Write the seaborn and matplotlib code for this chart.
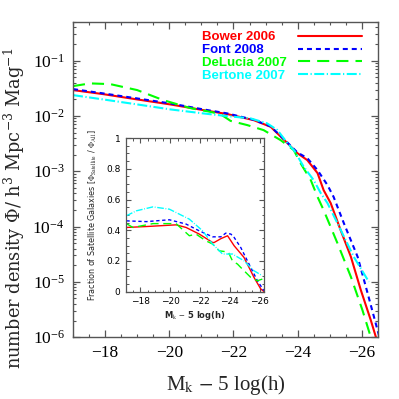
import numpy as np
import pandas as pd
import seaborn as sns
import matplotlib.pyplot as plt
from matplotlib.ticker import MultipleLocator, LogLocator, NullFormatter

# main panel: luminosity function (log10 of phi) vs magnitude
mag_bower = [-17.0, -17.94, -19.0, -20.03, -21.06, -21.81, -22.63, -23.16, -23.68, -23.99,
             -24.30, -24.62, -24.81, -25.03, -25.34, -25.66, -25.97, -26.28, -26.44, -26.5]
logphi_bower = [-1.533, -1.606, -1.702, -1.792, -1.895, -1.967, -2.076, -2.197, -2.492, -2.673,
                -2.799, -3.034, -3.342, -3.577, -4.065, -4.548, -5.150, -5.693, -6.0, -6.1]

mag_font = [-17.0, -17.94, -19.0, -20.03, -21.06, -21.81, -22.63, -23.16, -23.68, -23.99,
            -24.30, -24.62, -24.93, -25.12, -25.44, -25.87, -26.18, -26.49, -26.6]
logphi_font = [-1.515, -1.593, -1.684, -1.774, -1.882, -1.955, -2.07, -2.19, -2.48, -2.66,
               -2.763, -2.98, -3.251, -3.463, -3.939, -4.548, -5.204, -5.873, -6.1]

mag_delucia = [-17.0, -17.53, -18.16, -19.0, -19.81, -20.66, -21.28, -21.6, -21.91, -22.43,
               -22.94, -23.47, -23.88, -24.09, -24.41, -24.62, -24.81, -25.24, -25.66, -26.02,
               -26.28, -26.35]
logphi_delucia = [-1.461, -1.412, -1.425, -1.533, -1.714, -1.859, -1.926, -1.97, -2.09, -2.166,
                  -2.257, -2.438, -2.618, -2.854, -3.161, -3.463, -3.703, -4.300, -4.910, -5.512,
                  -6.0, -6.1]

mag_bertone = [-17.0, -17.94, -19.0, -20.03, -21.06, -21.81, -22.53, -23.05, -23.37, -23.68,
               -23.9, -24.19, -24.5, -24.72, -24.93, -25.24, -25.75, -26.22]
logphi_bertone = [-1.624, -1.702, -1.792, -1.882, -1.955, -2.004, -2.044, -2.135, -2.256, -2.49,
                  -2.63, -2.920, -3.161, -3.396, -3.577, -3.939, -4.548, -5.0]

# inset: satellite fraction
fmag_bower = [-17.07, -18.4, -20.4, -21.07, -21.95, -22.85, -22.95, -23.4, -23.85, -24.29,
              -24.95, -25.62, -26.07, -26.3]
frac_bower = [0.418, 0.424, 0.435, 0.418, 0.375, 0.32, 0.32, 0.345, 0.364, 0.299,
              0.223, 0.093, 0.018, 0.0]

fmag_font = [-17.07, -18.4, -19.95, -21.07, -21.95, -22.85, -23.4, -23.73, -24.07, -24.29,
             -24.73, -25.4, -25.85, -26.29]
frac_font = [0.461, 0.456, 0.468, 0.44, 0.396, 0.357, 0.357, 0.381, 0.375, 0.353,
             0.288, 0.158, 0.071, 0.006]

fmag_delucia = [-17.07, -17.51, -18.85, -20.4, -21.29, -21.73, -22.4, -22.85, -23.29, -23.9,
                -24.18, -24.51, -24.73, -25.4, -25.85, -26.18]
frac_delucia = [0.443, 0.418, 0.443, 0.443, 0.364, 0.375, 0.331, 0.31, 0.266, 0.258,
                0.2, 0.18, 0.158, 0.093, 0.071, 0.082]

fmag_bertone = [-17.07, -17.73, -18.85, -19.95, -21.29, -22.18, -22.85, -23.51, -24.18, -24.95,
                -25.62, -26.18]
frac_bertone = [0.494, 0.526, 0.552, 0.537, 0.472, 0.396, 0.31, 0.245, 0.245, 0.201,
                0.136, 0.104]

labels = ['Bower 2006', 'Font 2008', 'DeLucia 2007', 'Bertone 2007']
colors = ['#ff0000', '#0000ff', '#00ff00', '#00ffff']
styles = ['-', (0, (2.4, 1.9)), (0, (5.8, 3.4)), (0, (4.8, 1.2, 0.6, 1.2))]
xticks = [-18, -20, -22, -24, -26]
xtick_labels = ['\u221218', '\u221220', '\u221222', '\u221224', '\u221226']

sns.set_style('ticks')
plt.rcParams['font.family'] = ['Liberation Serif', 'DejaVu Serif']
plt.rcParams['mathtext.fontset'] = 'stix'

fig = plt.figure(figsize=(3.99, 3.99), dpi=100)
ax = fig.add_axes([0.183, 0.155, 0.764, 0.790])

main_sets = [(mag_bower, logphi_bower), (mag_font, logphi_font),
             (mag_delucia, logphi_delucia), (mag_bertone, logphi_bertone)]
for (m, lp), lab, c, ls in zip(main_sets, labels, colors, styles):
    df = pd.DataFrame({'mag': m, 'phi': 10 ** np.array(lp)})
    sns.lineplot(data=df, x='mag', y='phi', ax=ax, color=c, linestyle=ls,
                 lw=1.5, label=lab, sort=False)

ax.set_yscale('log')
ax.set_xlim(-17, -26.5)
ax.set_ylim(1e-6, 0.5)
ax.xaxis.set_minor_locator(MultipleLocator(0.5))
ax.yaxis.set_major_locator(LogLocator(base=10, numticks=10))
ax.yaxis.set_minor_locator(LogLocator(base=10, subs=np.arange(2, 10), numticks=20))
ax.yaxis.set_minor_formatter(NullFormatter())
ax.set_xticks(xticks)
ax.set_xticklabels(xtick_labels)
ax.tick_params(which='both', direction='in', top=True, right=True, colors='#555555',
               labelcolor='black', labelsize=12.5)
ax.tick_params(which='major', length=5, width=0.9, pad=6)
ax.tick_params(which='minor', length=2.5, width=0.8)
for s in ax.spines.values():
    s.set_color('#555555')
    s.set_linewidth(1.0)
ax.set_xlabel(r'M$_{\rm k}$ $-$ 5 log(h)', fontsize=15, labelpad=8)
ax.set_ylabel(r'number density $\Phi$/ h$^{3}$ Mpc$^{-3}$ Mag$^{-1}$', fontsize=12.8,
              family='DejaVu Serif', math_fontfamily='dejavuserif')
ax.yaxis.set_label_coords(-0.15, 0.41)

# legend: left-aligned coloured names, line samples in a column to the right
handles, _ = ax.get_legend_handles_labels()
leg_font = {'family': 'Liberation Sans', 'weight': 'bold', 'size': 9.5}
leg_names = ax.legend(handles, labels, loc='upper left', bbox_to_anchor=(0.423, 0.971),
                      frameon=False, handlelength=0, handletextpad=0, labelcolor='linecolor',
                      labelspacing=0.05, borderpad=0, borderaxespad=0, prop=leg_font)
ax.add_artist(leg_names)
ax.legend(handles, [' '] * len(handles), loc='upper left', bbox_to_anchor=(0.738, 0.971),
          frameon=False, handlelength=4.85, handletextpad=0, labelspacing=0.05,
          borderpad=0, borderaxespad=0, prop=leg_font)

# inset
ins = fig.add_axes([0.316, 0.269, 0.346, 0.385])
inset_sets = [(fmag_bower, frac_bower), (fmag_font, frac_font),
              (fmag_delucia, frac_delucia), (fmag_bertone, frac_bertone)]
for (m, fr), c, ls in zip(inset_sets, colors, styles):
    df = pd.DataFrame({'mag': m, 'frac': fr})
    sns.lineplot(data=df, x='mag', y='frac', ax=ins, color=c, linestyle=ls,
                 lw=1.0, sort=False, legend=False)
ins.set_xlim(-17.05, -26.3)
ins.set_ylim(0, 1)
ins.xaxis.set_minor_locator(MultipleLocator(0.5))
ins.yaxis.set_minor_locator(MultipleLocator(0.05))
ins.set_xticks(xticks)
ins.set_xticklabels(xtick_labels, family='DejaVu Sans')
ins.set_yticks([0, 0.2, 0.4, 0.6, 0.8, 1.0])
ins.set_yticklabels(['0', '0.2', '0.4', '0.6', '0.8', '1'], family='DejaVu Sans')
ins.tick_params(which='both', direction='in', top=True, right=True, colors='#555555',
                labelcolor='black', labelsize=6.5)
ins.tick_params(which='major', length=3.5, width=0.8, pad=4)
ins.tick_params(which='minor', length=1.8, width=0.7)
for s in ins.spines.values():
    s.set_color('#555555')
    s.set_linewidth(0.9)
ins.set_xlabel(r'M$_{\rm k}$ $-$ 5 log(h)', fontsize=6, family='DejaVu Sans',
               fontweight='bold', labelpad=2)
ins.set_ylabel(r'Fraction of Satellite Galaxies [$\Phi_{\rm Satellite}$ / $\Phi_{\rm All}$]',
               fontsize=5.8, family='DejaVu Sans', labelpad=5)

fig.savefig('out.png', dpi=100)
